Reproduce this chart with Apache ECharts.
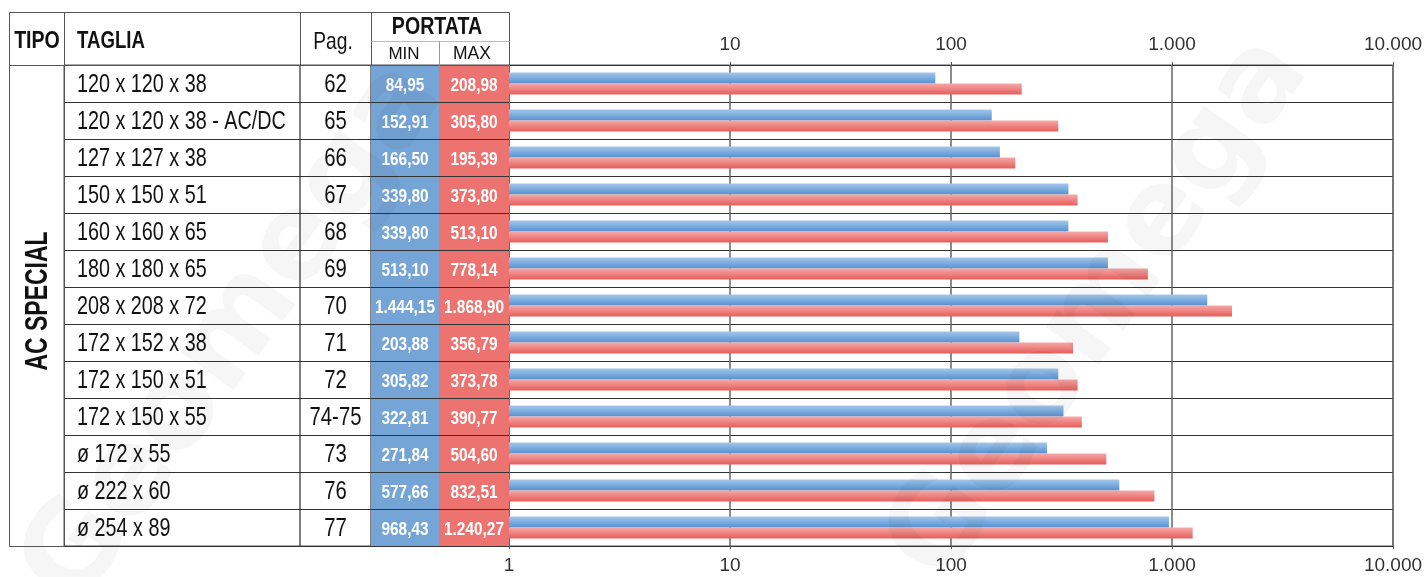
<!DOCTYPE html>
<html>
<head>
<meta charset="utf-8">
<script src="https://cdn.jsdelivr.net/npm/echarts@6/dist/echarts.min.js"></script>
<style>
  html, body { margin: 0; padding: 0; background: #fff; }
  #chart { width: 1426px; height: 577px; }
</style>
</head>
<body>
<div id="chart"></div>
<script>
// dati tabella
var taglie = ['120 x 120 x 38', '120 x 120 x 38 - AC/DC', '127 x 127 x 38', '150 x 150 x 51',
    '160 x 160 x 65', '180 x 180 x 65', '208 x 208 x 72', '172 x 152 x 38', '172 x 150 x 51',
    '172 x 150 x 55', 'ø 172 x 55', 'ø 222 x 60', 'ø 254 x 89'];
var pagine = ['62', '65', '66', '67', '68', '69', '70', '71', '72', '74-75', '73', '76', '77'];
var portataMin = [84.95, 152.91, 166.50, 339.80, 339.80, 513.10, 1444.15, 203.88, 305.82, 322.81, 271.84, 577.66, 968.43];
var portataMax = [208.98, 305.80, 195.39, 373.80, 513.10, 778.14, 1868.90, 356.79, 373.78, 390.77, 504.60, 832.51, 1240.27];
var tipo = 'AC SPECIAL';

var REG = '"Liberation Sans", Arial, sans-serif';
var LINE = '#555';

// formato italiano 1.234,56
function fmt(v, dec) {
    var parts = v.toFixed(dec).split('.');
    var intp = parts[0].replace(/\B(?=(\d{3})+(?!\d))/g, '.');
    return dec ? intp + ',' + parts[1] : intp;
}

var chart = echarts.init(document.getElementById('chart'));

var TOP = 65, H = 481;
// colonne tabella: [left, width]
var cols = [[64, 236], [300, 71], [371, 68], [439, 70]];

var grids = [], xAxes = [], yAxes = [], series = [];

cols.forEach(function (c, i) {
    grids.push({ left: c[0], top: TOP, width: c[1], height: H, show: true, borderColor: LINE, borderWidth: 1 });
    xAxes.push({ gridIndex: i, type: 'value', min: 0, max: 1, show: false });
    yAxes.push({
        gridIndex: i, type: 'category', inverse: true, data: taglie, z: 5,
        axisLine: { show: false }, axisTick: { show: false }, axisLabel: { show: false },
        splitLine: { show: true, interval: 0, lineStyle: { color: '#333', width: 1 } }
    });
});

// celle colorate
function cellSeries(idx, color) {
    return {
        type: 'bar', xAxisIndex: idx, yAxisIndex: idx, silent: true,
        barWidth: '100%', itemStyle: { color: color },
        data: taglie.map(function () { return 1; })
    };
}
// testo delle celle (font stretto = scaleX)
function textSeries(idx, texts, o) {
    return {
        type: 'custom', xAxisIndex: idx, yAxisIndex: idx, silent: true, z: 6,
        data: texts.map(function (t, i) { return [0, i]; }),
        renderItem: function (params, api) {
            var p = api.coord([o.at, api.value(1)]);
            return {
                type: 'text', x: p[0] + (o.dx || 0), y: p[1] + (o.dy || 0), scaleX: o.sx,
                style: {
                    text: texts[params.dataIndex], fontFamily: REG, fontSize: o.size,
                    fontWeight: o.weight || 'normal', fill: o.color, align: o.align, verticalAlign: 'middle'
                }
            };
        }
    };
}

series.push(cellSeries(2, '#75a4d6'));
series.push(cellSeries(3, '#ec7370'));
series.push(textSeries(0, taglie, { at: 0, dx: 13, dy: 1, sx: 0.76, size: 26, color: '#111', align: 'left' }));
series.push(textSeries(1, pagine, { at: 0.5, dx: 0, dy: 1, sx: 0.78, size: 26, color: '#111', align: 'center' }));
series.push(textSeries(2, portataMin.map(function (v) { return fmt(v, 2); }),
    { at: 0.5, dx: 0, dy: 3, sx: 0.88, size: 17.5, weight: 'bold', color: '#fff', align: 'center' }));
series.push(textSeries(3, portataMax.map(function (v) { return fmt(v, 2); }),
    { at: 0.5, dx: 0, dy: 3, sx: 0.88, size: 17.5, weight: 'bold', color: '#fff', align: 'center' }));

// grafico log
grids.push({ left: 509, top: TOP, width: 884, height: H, show: true, borderColor: LINE, borderWidth: 1 });
var logAxis = {
    gridIndex: 4, type: 'log', logBase: 10, min: 1, max: 10000, splitNumber: 4,
    axisLine: { show: false },
    axisTick: { show: true, length: 3, lineStyle: { color: LINE } },
    splitLine: { show: true, lineStyle: { color: '#666', width: 1.5 } },
    axisLabel: { fontFamily: REG, fontSize: 19, color: '#333', margin: 10 }
};
xAxes.push(Object.assign({}, logAxis, {
    position: 'bottom',
    axisLabel: Object.assign({}, logAxis.axisLabel, { formatter: function (v) { return fmt(v, 0); } })
}));
xAxes.push(Object.assign({}, logAxis, {
    position: 'top', splitLine: { show: false },
    axisLabel: Object.assign({}, logAxis.axisLabel, { margin: 11, formatter: function (v) { return v === 1 ? '' : fmt(v, 0); } })
}));
yAxes.push({
    gridIndex: 4, type: 'category', inverse: true, data: taglie,
    axisLine: { show: false }, axisLabel: { show: false },
    axisTick: { show: true, interval: 0, length: 3, lineStyle: { color: '#333' } },
    splitLine: { show: true, interval: 0, lineStyle: { color: '#333', width: 1 } }
});

function grad(c1, c2) {
    return new echarts.graphic.LinearGradient(0, 0, 0, 1, [{ offset: 0, color: c1 }, { offset: 1, color: c2 }]);
}
series.push({
    name: 'MIN', type: 'bar', xAxisIndex: 4, yAxisIndex: 4, barWidth: 11, barGap: '0%',
    data: portataMin, itemStyle: { color: grad('#a4c6ec', '#5592d0') }
});
series.push({
    name: 'MAX', type: 'bar', xAxisIndex: 4, yAxisIndex: 4, barWidth: 11, barGap: '0%',
    data: portataMax, itemStyle: { color: grad('#f5a8a8', '#e55e5a') }
});

var hline = function (x1, x2, y, color) {
    return { type: 'line', shape: { x1: x1, y1: y, x2: x2, y2: y }, style: { stroke: color || LINE, lineWidth: 1 }, z: 10 };
};
var vline = function (x, y1, y2, color) {
    return { type: 'line', shape: { x1: x, y1: y1, x2: x, y2: y2 }, style: { stroke: color || LINE, lineWidth: 1 }, z: 10 };
};
var headText = function (x, y, text, size, weight, sx, align) {
    return {
        type: 'text', x: x, y: y, z: 10, scaleX: sx,
        style: { text: text, fontFamily: REG, fontSize: size, fontWeight: weight, fill: '#111', align: align || 'center', verticalAlign: 'middle' }
    };
};
var watermark = function (x, y) {
    return {
        type: 'text', x: x, y: y, rotation: 0.95, z: 20, silent: true,
        style: { text: 'Geomega', fontFamily: '"DejaVu Sans", sans-serif', fontSize: 120, fontWeight: 'bold', fill: 'rgba(0,0,0,0.035)', align: 'center', verticalAlign: 'middle' }
    };
};

var option = {
    animation: false,
    grid: grids,
    xAxis: xAxes,
    yAxis: yAxes,
    series: series,
    graphic: [
        // intestazione
        { type: 'rect', shape: { x: 9.5, y: 12.5, width: 500, height: 53 }, style: { fill: 'none', stroke: LINE, lineWidth: 1 }, z: 10 },
        vline(64.5, 12.5, 65.5), vline(300.5, 12.5, 65.5), vline(371.5, 12.5, 65.5),
        hline(371.5, 509.5, 41.5, '#bbb'), vline(439.5, 41.5, 65.5, '#999'),
        headText(37, 41, 'TIPO', 24.5, 'bold', 0.8),
        headText(77, 41, 'TAGLIA', 24.5, 'bold', 0.76, 'left'),
        headText(333, 42, 'Pag.', 24, 'normal', 0.8),
        headText(437, 27, 'PORTATA', 24.5, 'bold', 0.8),
        headText(404, 54, 'MIN', 17, 'normal', 1),
        headText(472, 54, 'MAX', 17.5, 'normal', 1),
        // colonna tipo
        { type: 'rect', shape: { x: 9.5, y: 65.5, width: 55, height: 481 }, style: { fill: 'none', stroke: LINE, lineWidth: 1 }, z: 10 },
        {
            type: 'text', x: 38, y: 301, rotation: Math.PI / 2, scaleX: 0.74, z: 10,
            style: { text: tipo, fontFamily: REG, fontSize: 31, fontWeight: 'bold', fill: '#111', align: 'center', verticalAlign: 'middle' }
        },
        // filigrana
        watermark(235, 335),
        watermark(1100, 310)
    ]
};

chart.setOption(option);
</script>
</body>
</html>
